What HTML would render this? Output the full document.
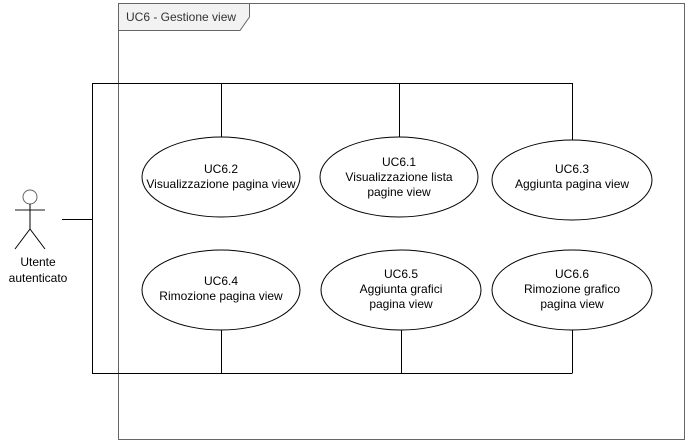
<!DOCTYPE html>
<html><head><style>body{margin:0;background:#fff}svg{display:block}</style></head><body>
<svg width="685" height="440" xmlns="http://www.w3.org/2000/svg" font-family="Liberation Sans, Arial, sans-serif" font-size="12">
<rect x="118.5" y="3.5" width="566" height="436" fill="#fff" stroke="#666"/>
<path d="M118.5 3.5 H249.5 V17 L240 30.5 H118.5 Z" fill="#f2f2f2" stroke="#666"/>
<text x="126" y="21" fill="#333">UC6 - Gestione view</text>
<g stroke="#000" fill="none">
<path d="M62 219.5 H92.5 M92.5 83.5 V373.5 M92 83.5 H572.5 M92 373.5 H572.5 M221.5 83 V137 M399.5 83 V137 M572.5 83 V140 M221.5 330 V373 M401.5 330 V373 M572.5 330 V373"/>
</g>
<g stroke="#000" fill="#fff">
<ellipse cx="221" cy="177" rx="79" ry="40"/>
<ellipse cx="399" cy="177" rx="79" ry="40"/>
<ellipse cx="572" cy="180" rx="80" ry="40"/>
<ellipse cx="221" cy="290" rx="79" ry="40"/>
<ellipse cx="401" cy="290" rx="80" ry="40"/>
<ellipse cx="572" cy="290" rx="80" ry="40"/>
</g>
<g text-anchor="middle" fill="#000">
<text x="221" y="173">UC6.2</text><text x="221" y="188">Visualizzazione pagina view</text>
<text x="399" y="166">UC6.1</text><text x="399" y="181">Visualizzazione lista</text><text x="399" y="196">pagine view</text>
<text x="572" y="173">UC6.3</text><text x="572" y="188">Aggiunta pagina view</text>
<text x="221" y="285">UC6.4</text><text x="221" y="300">Rimozione pagina view</text>
<text x="401" y="278">UC6.5</text><text x="401" y="293">Aggiunta grafici</text><text x="401" y="308">pagina view</text>
<text x="572" y="278">UC6.6</text><text x="572" y="293">Rimozione grafico</text><text x="572" y="308">pagina view</text>
<text x="38" y="266">Utente</text><text x="38" y="282">autenticato</text>
</g>
<circle cx="30" cy="197" r="7" fill="#fff" stroke="#666"/>
<path d="M15 210 H45" stroke="#666" stroke-width="1.5"/>
<path d="M30 204 V229 L15 249 M30 229 L45 249" stroke="#000" fill="none"/>
</svg>
</body></html>
